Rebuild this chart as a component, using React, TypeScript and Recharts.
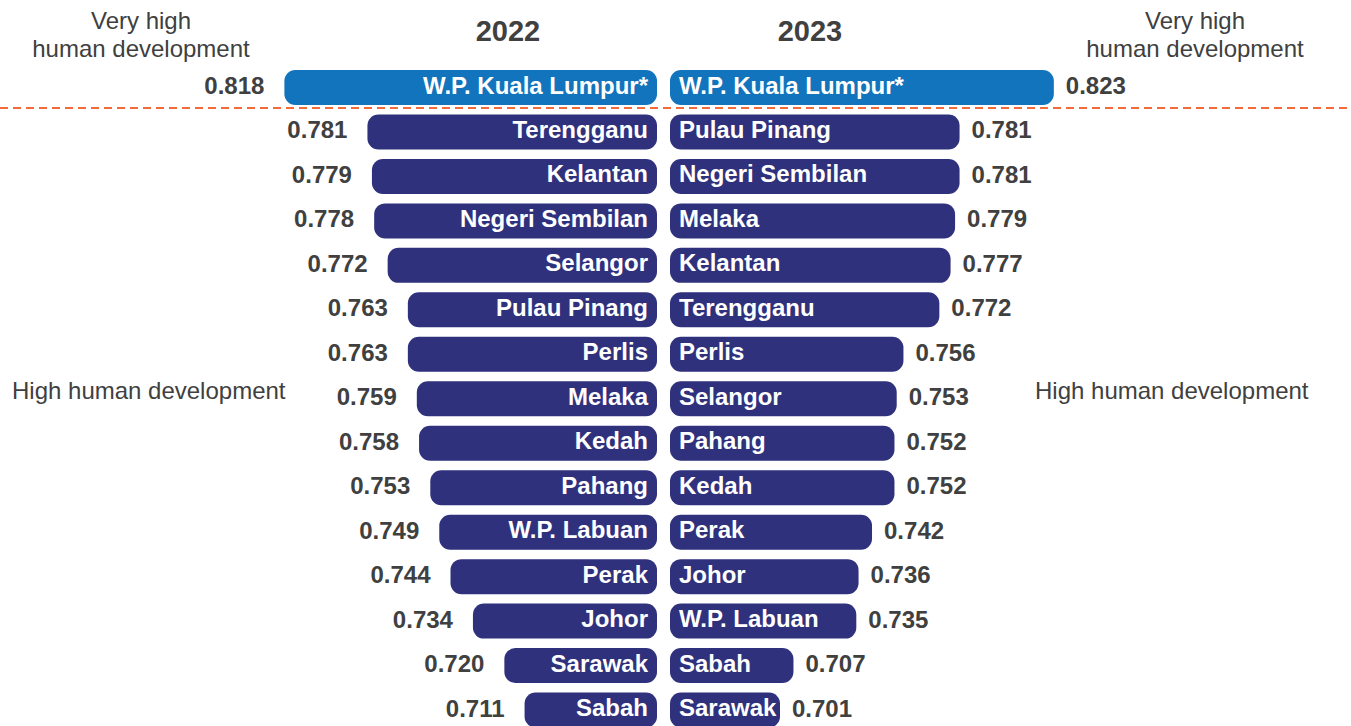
import React from "react";
import { BarChart, Bar, XAxis, YAxis } from "recharts";

// Human development index by state, 2022 vs 2023 (each column sorted high to low)
const regions2022 = [
  "W.P. Kuala Lumpur*", "Terengganu", "Kelantan", "Negeri Sembilan", "Selangor",
  "Pulau Pinang", "Perlis", "Melaka", "Kedah", "Pahang",
  "W.P. Labuan", "Perak", "Johor", "Sarawak", "Sabah",
];
const hdi2022 = [0.818, 0.781, 0.779, 0.778, 0.772, 0.763, 0.763, 0.759, 0.758, 0.753, 0.749, 0.744, 0.734, 0.72, 0.711];

const regions2023 = [
  "W.P. Kuala Lumpur*", "Pulau Pinang", "Negeri Sembilan", "Melaka", "Kelantan",
  "Terengganu", "Perlis", "Selangor", "Pahang", "Kedah",
  "Perak", "Johor", "W.P. Labuan", "Sabah", "Sarawak",
];
const hdi2023 = [0.823, 0.781, 0.781, 0.779, 0.777, 0.772, 0.756, 0.753, 0.752, 0.752, 0.742, 0.736, 0.735, 0.707, 0.701];

const highlighted = "W.P. Kuala Lumpur*";
const hdiDomain: [number, number] = [0.652, 0.84];

const data2022 = regions2022.map((name, i) => ({ name, hdi: hdi2022[i] }));
const data2023 = regions2023.map((name, i) => ({ name, hdi: hdi2023[i] }));

const FONT = '"Liberation Sans", Arial, Helvetica, sans-serif';
const NAVY = "#2f317d";
const BLUE = "#1174bc";
const INK = "#404040";

const W = 1351;
const H = 740;

function makeShape(side: "left" | "right") {
  return (props: any) => {
    const { x, y, width, height, payload } = props;
    const x0 = Math.min(x, x + width);
    const w = Math.abs(width);
    const cy = y + height / 2;
    const anchor = side === "left" ? "end" : "start";
    const inner = side === "left" ? x0 + w - 9 : x0 + 9;
    const outer = side === "left" ? x0 - 20 : x0 + w + 12;
    return (
      <g>
        <rect x={x0} y={y} width={w} height={height} rx={11} ry={11}
          fill={payload.name === highlighted ? BLUE : NAVY} />
        <text x={inner} y={cy - 2.5} textAnchor={anchor} dominantBaseline="central"
          fill="#fff" fontSize={24} fontWeight={700} fontFamily={FONT}>
          {payload.name}
        </text>
        <text x={outer} y={cy - 2} textAnchor={anchor} dominantBaseline="central"
          fill={INK} fontSize={24} fontWeight={700} fontFamily={FONT}>
          {payload.hdi.toFixed(3)}
        </text>
      </g>
    );
  };
}

function Side({ data, side }: { data: any[]; side: "left" | "right" }) {
  const margin = side === "left"
    ? { top: 65, bottom: 8, left: 235, right: 694 }
    : { top: 65, bottom: 8, left: 670, right: 259 };
  return (
    <div style={{ position: "absolute", left: 0, top: 0 }}>
      <BarChart width={W} height={H} data={data} layout="vertical" margin={margin}>
        <XAxis type="number" domain={hdiDomain} reversed={side === "left"} hide />
        <YAxis type="category" dataKey="name" hide />
        <Bar dataKey="hdi" barSize={35} shape={makeShape(side)} isAnimationActive={false} />
      </BarChart>
    </div>
  );
}

export default function App() {
  const note = { fill: INK, fontSize: 24, fontFamily: FONT };
  return (
    <div style={{ position: "relative", width: W, height: 726, overflow: "hidden", background: "#fff" }}>
      <style>{`html,body{margin:0;padding:0;overflow:hidden;background:#fff}`}</style>
      <Side data={data2022} side="left" />
      <Side data={data2023} side="right" />
      <svg width={W} height={726} style={{ position: "absolute", left: 0, top: 0, pointerEvents: "none" }}>
        <line x1={0} x2={W} y1={108} y2={108} stroke="#f26b3a" strokeWidth={2} strokeDasharray="8 5" />
        <text x={508} y={31} textAnchor="middle" dominantBaseline="central"
          fill={INK} fontSize={29} fontWeight={700} fontFamily={FONT}>2022</text>
        <text x={810} y={31} textAnchor="middle" dominantBaseline="central"
          fill={INK} fontSize={29} fontWeight={700} fontFamily={FONT}>2023</text>
        <text x={141} y={20} textAnchor="middle" dominantBaseline="central" {...note}>Very high</text>
        <text x={141} y={48} textAnchor="middle" dominantBaseline="central" {...note}>human development</text>
        <text x={1195} y={20} textAnchor="middle" dominantBaseline="central" {...note}>Very high</text>
        <text x={1195} y={48} textAnchor="middle" dominantBaseline="central" {...note}>human development</text>
        <text x={12} y={390} dominantBaseline="central" {...note}>High human development</text>
        <text x={1035} y={390} dominantBaseline="central" {...note}>High human development</text>
      </svg>
    </div>
  );
}
